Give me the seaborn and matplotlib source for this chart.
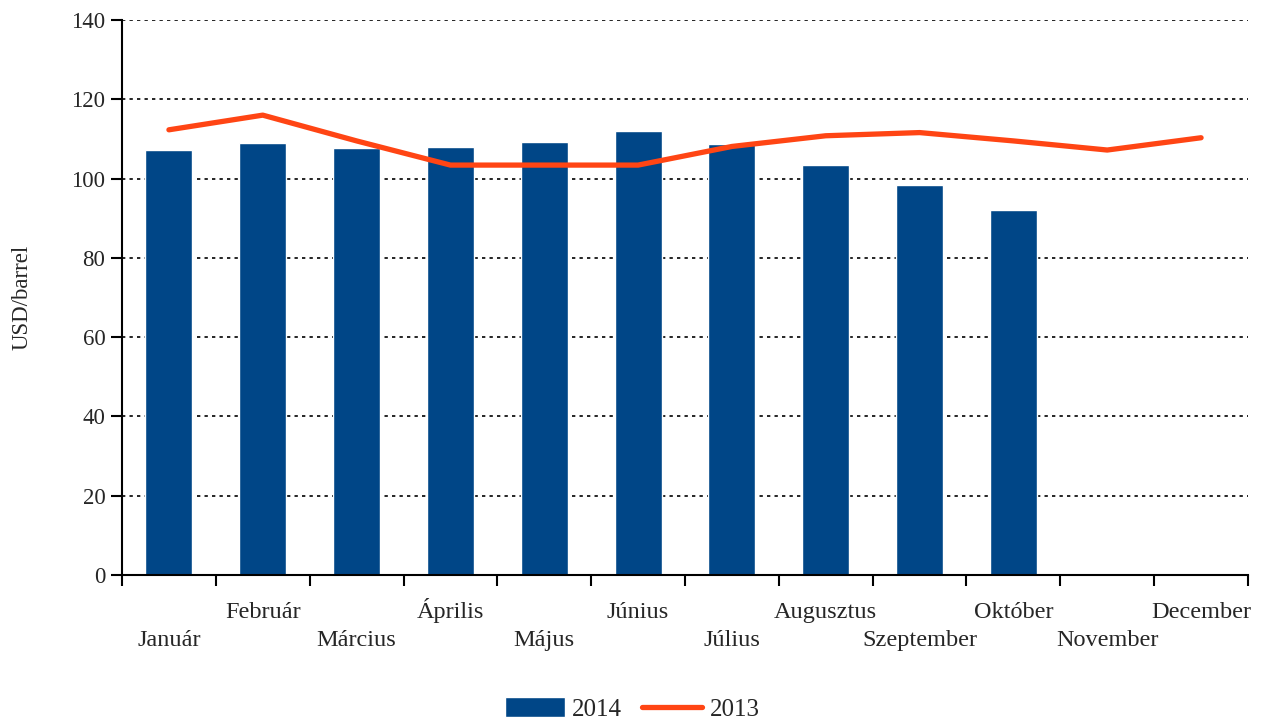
import numpy as np
import pandas as pd
import matplotlib
matplotlib.use("Agg")
import matplotlib.pyplot as plt
import matplotlib.transforms as mtransforms
import seaborn as sns
from matplotlib.patches import Patch
from matplotlib.lines import Line2D

# ── Data ──────────────────────────────────────────────────────────────────────
MONTHS = ["Január", "Február", "Március", "Április", "Május", "Június",
          "Július", "Augusztus", "Szeptember", "Október", "November", "December"]
PRICE_2014 = [107.1, 109.0, 107.6, 107.9, 109.2, 111.9,
              108.7, 103.4, 98.3, 92.0, np.nan, np.nan]
PRICE_2013 = [112.3, 116.0, 109.5, 103.4, 103.4, 103.4,
              108.1, 110.8, 111.6, 109.5, 107.2, 110.3]
Y_TICKS = [0, 20, 40, 60, 80, 100, 120, 140]

BAR_COLOR  = "#004687"
LINE_COLOR = "#FF4514"

sns.set_style("white")
plt.rcParams["font.family"] = ["Liberation Serif", "DejaVu Serif"]

df = pd.DataFrame({"month": MONTHS, "p2014": PRICE_2014, "p2013": PRICE_2013})

fig = plt.figure(figsize=(12.65, 7.2), dpi=100)
ax = fig.add_axes([122/1265, 1 - 575/720, (1248-122)/1265, (575-20)/720])

sns.barplot(data=df, x="month", y="p2014", order=MONTHS, color=BAR_COLOR,
            width=0.5, saturation=1, ax=ax)
sns.lineplot(x=np.arange(len(MONTHS)), y=df["p2013"], color=LINE_COLOR,
             linewidth=3.8, ax=ax)

ax.set_xlim(-0.5, len(MONTHS) - 0.5)
ax.set_ylim(0, 140)
ax.set_yticks(Y_TICKS)
ax.set_yticklabels([str(t) for t in Y_TICKS], fontsize=16.5)
for t in Y_TICKS[1:]:
    ax.axhline(t, color="black", linestyle=(0, (2, 2.5)), linewidth=1.2, zorder=0)

# staggered month labels, tick marks between categories
ax.set_xticks(np.arange(len(MONTHS)))
ax.set_xticklabels(MONTHS, fontsize=17.5, va="baseline")
ax.tick_params(axis="x", which="major", length=0, pad=31)
lower = mtransforms.ScaledTranslation(0, -28/100, fig.dpi_scale_trans)
for i, lab in enumerate(ax.get_xticklabels()):
    if i % 2 == 0:
        lab.set_transform(lab.get_transform() + lower)
ax.set_xticks(np.arange(len(MONTHS) + 1) - 0.5, minor=True)
ax.tick_params(axis="x", which="minor", bottom=True, length=8, width=1.5,
               direction="out", color="black")
ax.tick_params(axis="y", left=True, length=8, width=1.5, direction="out",
               color="black", pad=4)

ax.set_xlabel("")
ax.set_ylabel("USD/barrel", fontsize=16.5, labelpad=28)

for side in ["top", "right"]:
    ax.spines[side].set_visible(False)
for side in ["left", "bottom"]:
    ax.spines[side].set_color("black")
    ax.spines[side].set_linewidth(1.5)

handles = [Patch(facecolor=BAR_COLOR, label="2014"),
           Line2D([0], [0], color=LINE_COLOR, linewidth=3.8, label="2013")]
fig.legend(handles=handles, loc="center", bbox_to_anchor=(632/1265, 1 - 709/720),
           ncol=2, frameon=False, fontsize=18, handlelength=2.4, handleheight=0.8,
           columnspacing=0.8, handletextpad=0.3)

fig.savefig("out.png", dpi=100)
